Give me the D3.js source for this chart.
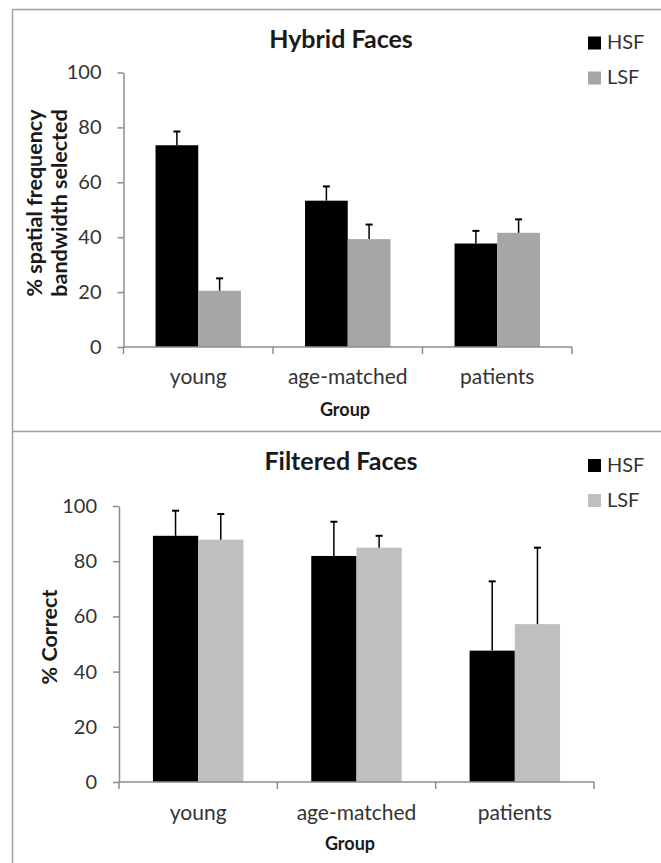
<!DOCTYPE html>
<html>
<head>
<meta charset="utf-8">
<script src="https://cdn.jsdelivr.net/npm/d3@7"></script>
<style>
  body { margin: 0; background: #fff; }
  text { font-family: Lato, "Open Sans", sans-serif; }
</style>
</head>
<body>
<svg id="chart" width="661" height="863"></svg>
<script>
const groups = ['young', 'age-matched', 'patients'];
const seriesNames = ['HSF', 'LSF'];
const yTicks = [0, 20, 40, 60, 80, 100];

// Hybrid Faces (top)
const hybridHSF = [73.5, 53.3, 37.7];
const hybridHSFErr = [5.0, 5.2, 4.6];
const hybridLSF = [20.5, 39.3, 41.6];
const hybridLSFErr = [4.5, 5.3, 4.9];

// Filtered Faces (bottom)
const filteredHSF = [89.2, 81.9, 47.6];
const filteredHSFErr = [9.1, 12.4, 25.1];
const filteredLSF = [87.8, 84.9, 57.2];
const filteredLSFErr = [9.3, 4.3, 27.7];

const svg = d3.select('#chart');

// frame lines
const frame = '#a0a0a0';
svg.append('line').attr('x1', 12.5).attr('x2', 12.5).attr('y1', 9.5).attr('y2', 863)
  .attr('stroke', frame).attr('stroke-width', 1.5);
svg.append('line').attr('x1', 12.5).attr('x2', 661).attr('y1', 9.5).attr('y2', 9.5)
  .attr('stroke', frame).attr('stroke-width', 1.5);
svg.append('line').attr('x1', 12.5).attr('x2', 661).attr('y1', 431.5).attr('y2', 431.5)
  .attr('stroke', frame).attr('stroke-width', 1.5);

const panels = [
  {
    title: 'Hybrid Faces', titleY: 48,
    yLabel: ['% spatial frequency', 'bandwidth selected'], yLabelX: [42, 67], yLabelY: 203,
    hsf: hybridHSF, hsfErr: hybridHSFErr, lsf: hybridLSF, lsfErr: hybridLSFErr,
    x0: 123.5, x1: 572, y0: 347, y1: 72.5, lsfColor: '#a6a6a6',
    catY: 384, groupY: 416, groupX: 345, legendY: 36.5
  },
  {
    title: 'Filtered Faces', titleY: 470,
    yLabel: ['% Correct'], yLabelX: [57], yLabelY: 637,
    hsf: filteredHSF, hsfErr: filteredHSFErr, lsf: filteredLSF, lsfErr: filteredLSFErr,
    x0: 119, x1: 594, y0: 782, y1: 506, lsfColor: '#bfbfbf',
    catY: 820, groupY: 850, groupX: 350, legendY: 459
  }
];

panels.forEach(p => {
  const g = svg.append('g');
  const x = d3.scaleBand().domain(groups).range([p.x0, p.x1]).padding(0);
  const xs = d3.scaleBand().domain(seriesNames).range([0, x.bandwidth()]).paddingInner(0).paddingOuter(0.75);
  const y = d3.scaleLinear().domain([0, 100]).range([p.y0, p.y1]);
  const color = { HSF: '#000', LSF: p.lsfColor };

  const rows = [];
  groups.forEach((grp, i) => {
    rows.push({ grp, s: 'HSF', v: p.hsf[i], e: p.hsfErr[i] });
    rows.push({ grp, s: 'LSF', v: p.lsf[i], e: p.lsfErr[i] });
  });

  // y axis
  const yAxis = g.append('g')
    .attr('transform', `translate(${p.x0},0)`)
    .call(d3.axisLeft(y).tickValues(yTicks).tickSize(6).tickSizeOuter(0).tickPadding(16));
  yAxis.select('.domain').attr('stroke', '#8c8c8c').attr('stroke-width', 1.5);
  yAxis.selectAll('.tick line').attr('stroke', '#8c8c8c').attr('stroke-width', 1.5);
  yAxis.selectAll('.tick text').attr('font-size', 20).attr('fill', '#333')
    .style('font-family', 'Lato, sans-serif');

  // bars
  g.selectAll('rect.bar').data(rows).enter().append('rect')
    .attr('class', 'bar')
    .attr('x', d => x(d.grp) + xs(d.s))
    .attr('y', d => y(d.v))
    .attr('width', xs.bandwidth())
    .attr('height', d => y(0) - y(d.v))
    .attr('fill', d => color[d.s]);

  // error bars (upper only)
  const err = g.selectAll('g.err').data(rows).enter().append('g').attr('class', 'err')
    .attr('transform', d => `translate(${x(d.grp) + xs(d.s) + xs.bandwidth() / 2},0)`);
  err.append('line').attr('x1', 0).attr('x2', 0)
    .attr('y1', d => y(d.v)).attr('y2', d => y(d.v + d.e))
    .attr('stroke', '#000').attr('stroke-width', 1.5);
  err.append('line').attr('x1', -3.5).attr('x2', 3.5)
    .attr('y1', d => y(d.v + d.e)).attr('y2', d => y(d.v + d.e))
    .attr('stroke', '#000').attr('stroke-width', 2);

  // x axis line + boundary ticks
  g.append('line').attr('x1', p.x0).attr('x2', p.x1).attr('y1', y(0)).attr('y2', y(0))
    .attr('stroke', '#8c8c8c').attr('stroke-width', 1.5);
  const bounds = groups.map(d => x(d)).concat([x(groups[groups.length - 1]) + x.bandwidth()]);
  g.selectAll('line.xt').data(bounds).enter().append('line').attr('class', 'xt')
    .attr('x1', d => d).attr('x2', d => d).attr('y1', y(0)).attr('y2', y(0) + 7)
    .attr('stroke', '#8c8c8c').attr('stroke-width', 1.5);
  g.selectAll('text.cat').data(groups).enter().append('text').attr('class', 'cat')
    .attr('x', d => x(d) + x.bandwidth() / 2).attr('y', p.catY)
    .attr('text-anchor', 'middle').attr('font-size', 21).attr('fill', '#333')
    .text(d => d);

  // axis titles
  g.append('text').attr('x', p.groupX).attr('y', p.groupY).attr('text-anchor', 'middle')
    .attr('font-size', 18).attr('font-weight', 'bold').attr('fill', '#1a1a1a').text('Group');
  p.yLabel.forEach((t, i) => {
    g.append('text')
      .attr('transform', `translate(${p.yLabelX[i]},${p.yLabelY}) rotate(-90)`)
      .attr('text-anchor', 'middle').attr('font-size', 21.5).attr('font-weight', 'bold')
      .attr('fill', '#1a1a1a').text(t);
  });

  // title
  g.append('text').attr('x', 341).attr('y', p.titleY).attr('text-anchor', 'middle')
    .attr('font-size', 25).attr('font-weight', 'bold').attr('fill', '#1a1a1a').text(p.title);

  // legend
  const leg = g.selectAll('g.leg').data(seriesNames).enter().append('g').attr('class', 'leg')
    .attr('transform', (d, i) => `translate(588,${p.legendY + i * 35})`);
  leg.append('rect').attr('width', 13).attr('height', 13).attr('fill', d => color[d]);
  leg.append('text').attr('x', 19).attr('y', 12.5).attr('font-size', 20).attr('fill', '#333')
    .text(d => d);
});
</script>
</body>
</html>
